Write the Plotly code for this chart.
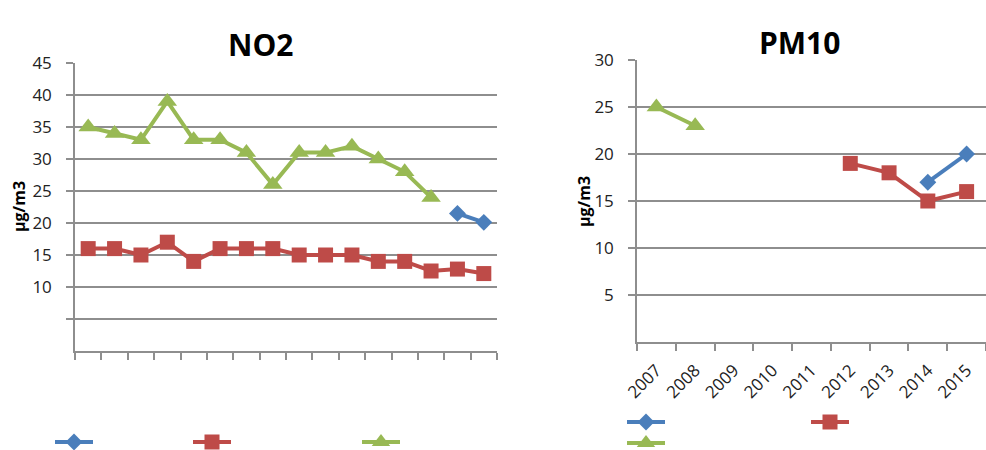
import plotly.graph_objects as go

# NO2 annual means (µg/m3), years 2000-2015 on a hidden category axis
no2_years = [str(y) for y in range(2000, 2016)]
no2_blue = [None] * 14 + [21.5, 20.1]
no2_red = [16, 16, 15, 17, 14, 16, 16, 16, 15, 15, 15, 14, 14, 12.5, 12.8, 12.1]
no2_green = [35, 34, 33, 39, 33, 33, 31, 26, 31, 31, 32, 30, 28, 24, None, None]

# PM10 annual means (µg/m3), 2007-2015
pm_years = [str(y) for y in range(2007, 2016)]
pm_blue = [None, None, None, None, None, None, None, 17, 20]
pm_red = [None, None, None, None, None, 19, 18, 15, 16]
pm_green = [25, 23, None, None, None, None, None, None, None]

no2_ticks = [5, 10, 15, 20, 25, 30, 35, 40, 45]
no2_ticktext = [""] + [str(v) for v in no2_ticks[1:]]
pm_ticks = [5, 10, 15, 20, 25, 30]

BLUE = "#4a7ebb"
RED = "#be4b48"
GREEN = "#98b954"
GRID = "#8e8e8e"
FONT = "Open Sans"

W, H = 986, 450


def px_x(p):
    return p / W


def px_y(p):
    return 1 - p / H


fig = go.Figure()

series = [
    (no2_years, no2_blue, BLUE, "diamond", 13, "x", "y", "legend"),
    (no2_years, no2_red, RED, "square", 15, "x", "y", "legend2"),
    (no2_years, no2_green, GREEN, "triangle-up", 17, "x", "y", "legend3"),
    (pm_years, pm_blue, BLUE, "diamond", 13, "x2", "y2", "legend4"),
    (pm_years, pm_red, RED, "square", 15, "x2", "y2", "legend5"),
    (pm_years, pm_green, GREEN, "triangle-up", 17, "x2", "y2", "legend6"),
]
for xs, ys, col, sym, size, xa, ya, lg in series:
    fig.add_trace(go.Scatter(
        x=xs, y=ys, mode="lines+markers", name=" ",
        line=dict(color=col, width=4),
        marker=dict(symbol=sym, size=size, color=col),
        connectgaps=False, xaxis=xa, yaxis=ya, legend=lg,
        showlegend=True,
    ))

axis_common = dict(showline=True, linecolor=GRID, linewidth=1.5,
                   ticks="outside", tickcolor=GRID, tickwidth=1.5,
                   zeroline=False, automargin=False)

fig.update_layout(
    width=W, height=H,
    margin=dict(l=0, r=0, t=0, b=0, autoexpand=False),
    paper_bgcolor="white", plot_bgcolor="white",
    font=dict(family=FONT, size=16, color="#222222"),
    xaxis=dict(domain=[px_x(75), px_x(497)], type="category",
               categoryorder="array", categoryarray=no2_years,
               range=[-0.5, 15.5], tickson="boundaries", ticklen=7,
               showticklabels=False, showgrid=False, anchor="y", **axis_common),
    yaxis=dict(domain=[px_y(351), px_y(63)], range=[0, 45],
               tickvals=no2_ticks, ticktext=no2_ticktext, ticklen=7,
               ticklabelstandoff=11,
               showgrid=True, gridcolor=GRID, gridwidth=1.5,
               tickfont=dict(size=17), anchor="x", **axis_common),
    xaxis2=dict(domain=[px_x(637), 1.0], type="category",
                categoryorder="array", categoryarray=pm_years,
                range=[-0.5, 8.5], tickson="boundaries", ticklen=7,
                tickangle=-45, tickfont=dict(size=17), ticklabelstandoff=10,
                showgrid=False, anchor="y2", **axis_common),
    yaxis2=dict(domain=[px_y(342), px_y(60)], range=[0, 30],
                tickvals=pm_ticks, ticklen=7, ticklabelstandoff=11,
                showgrid=True, gridcolor=GRID, gridwidth=1.5,
                tickfont=dict(size=17), anchor="x2", **axis_common),
    annotations=[
        dict(text="<b>NO2</b>", x=px_x(260), y=px_y(45), xref="paper", yref="paper",
             xanchor="center", yanchor="middle",
             showarrow=False, font=dict(size=30, color="black", family=FONT)),
        dict(text="<b>PM10</b>", x=px_x(799), y=px_y(42), xref="paper", yref="paper",
             xanchor="center", yanchor="middle",
             showarrow=False, font=dict(size=30, color="black", family=FONT)),
        dict(text="<b>µg/m3</b>", x=px_x(19), y=px_y(207), xref="paper", yref="paper",
             xanchor="center", yanchor="middle", textangle=-90,
             showarrow=False, font=dict(size=16, color="black", family=FONT)),
        dict(text="<b>µg/m3</b>", x=px_x(584), y=px_y(202), xref="paper", yref="paper",
             xanchor="center", yanchor="middle", textangle=-90,
             showarrow=False, font=dict(size=16, color="black", family=FONT)),
    ],
)

legend_pos = {
    "legend": (50, 442), "legend2": (188, 442), "legend3": (357, 442),
    "legend4": (622, 422), "legend5": (806, 422), "legend6": (622, 443),
}
for name, (lx, ly) in legend_pos.items():
    fig.update_layout({name: dict(x=px_x(lx), y=px_y(ly), xanchor="left", yanchor="middle",
                                  bgcolor="rgba(0,0,0,0)", borderwidth=0,
                                  font=dict(size=12), itemwidth=38)})

fig.write_html("out.html")
